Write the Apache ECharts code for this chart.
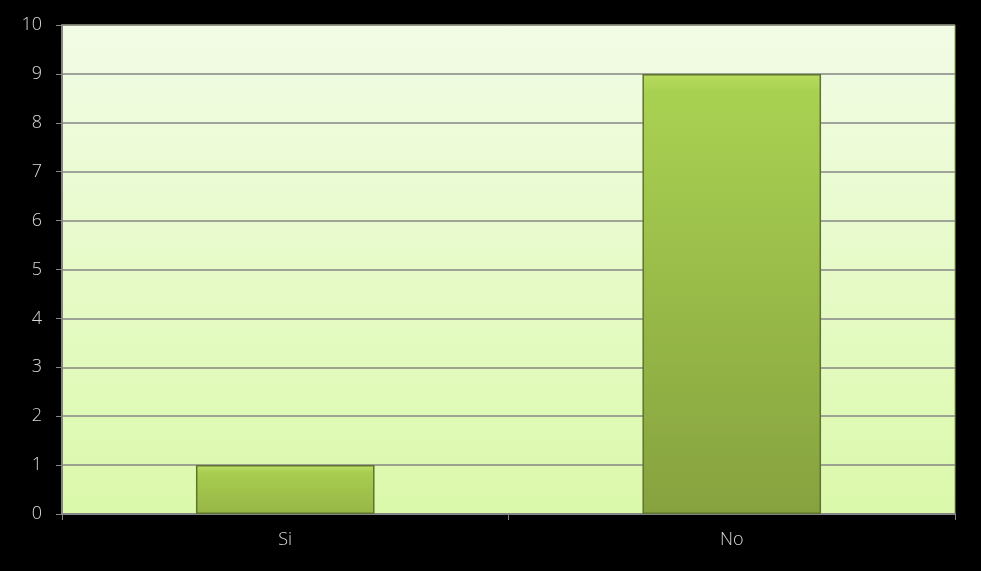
<!DOCTYPE html>
<html><head><meta charset="utf-8">
<script src="https://cdn.jsdelivr.net/npm/echarts@6/dist/echarts.min.js"></script>
<style>html,body{margin:0;padding:0;background:#000;}#c{width:981px;height:571px;}</style>
</head><body><div id="c"></div>
<script>
const categories = ['Si', 'No'];
const values = [1, 9];
const yTicks = { min: 0, max: 10, interval: 1 };

const tallGradient = new echarts.graphic.LinearGradient(0, 0, 0, 1, [
  { offset: 0, color: '#b8dc60' },
  { offset: 0.04, color: '#a9d151' },
  { offset: 1, color: '#86a23f' }
]);
const shortGradient = new echarts.graphic.LinearGradient(0, 0, 0, 1, [
  { offset: 0, color: '#c0e26a' },
  { offset: 0.15, color: '#a8cd4f' },
  { offset: 1, color: '#97b646' }
]);

const chart = echarts.init(document.getElementById('c'));
chart.setOption({
  backgroundColor: '#000000',
  animation: false,
  grid: {
    left: 62, right: 26, top: 25, bottom: 57,
    show: true,
    backgroundColor: new echarts.graphic.LinearGradient(0, 0, 0, 1, [
      { offset: 0, color: '#f2fce6' },
      { offset: 1, color: '#dbf9aa' }
    ]),
    borderColor: '#8fae4e',
    borderWidth: 1
  },
  xAxis: {
    type: 'category',
    data: categories,
    axisLine: { lineStyle: { color: '#868686', width: 2 } },
    axisTick: { show: true, length: 6, lineStyle: { color: '#868686', width: 1 } },
    axisLabel: { color: '#d9d9d9', fontFamily: 'Open Sans', fontWeight: 300, fontSize: 18, margin: 17 }
  },
  yAxis: {
    type: 'value',
    min: yTicks.min, max: yTicks.max, interval: yTicks.interval,
    axisLine: { show: true, lineStyle: { color: '#868686', width: 2 } },
    axisTick: { show: true, length: 6, lineStyle: { color: '#868686', width: 1 } },
    splitLine: { lineStyle: { color: '#868686', width: 1.5 } },
    axisLabel: { color: '#d9d9d9', fontFamily: 'Open Sans', fontWeight: 300, fontSize: 18, margin: 20 }
  },
  series: [{
    type: 'bar',
    data: values.map(v => ({ value: v, itemStyle: { color: v < 3 ? shortGradient : tallGradient } })),
    barWidth: '40%',
    itemStyle: {
      borderColor: '#5f7431',
      borderWidth: 1.5
    }
  }]
});
</script></body></html>
